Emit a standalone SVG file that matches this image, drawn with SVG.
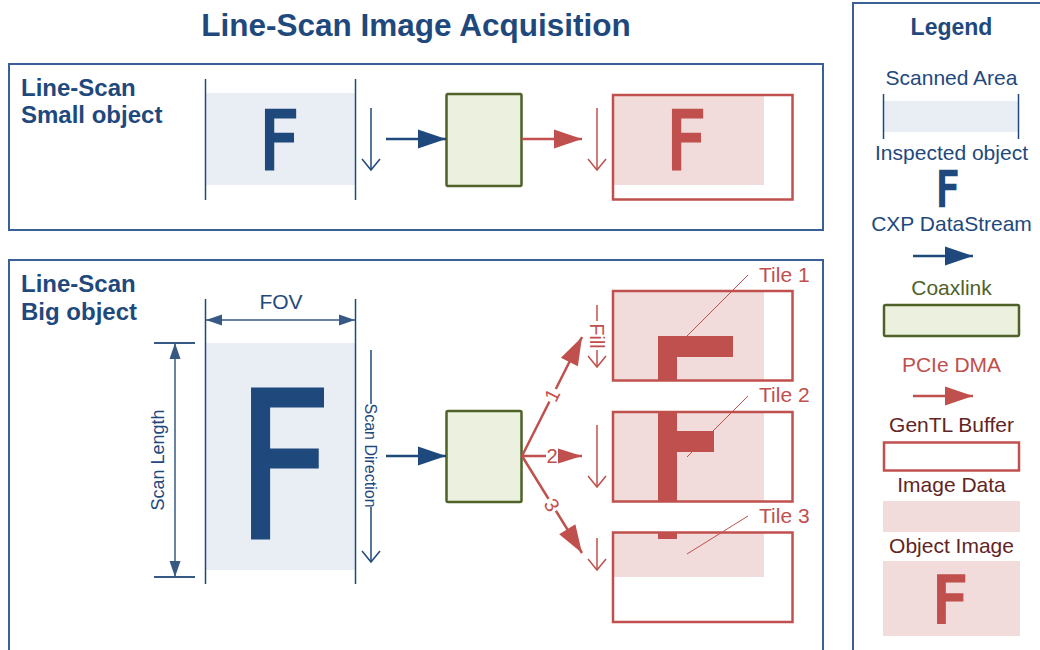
<svg xmlns="http://www.w3.org/2000/svg" width="1040" height="650" viewBox="0 0 1040 650">
<style>
text{font-family:"Liberation Sans",Arial,sans-serif}
.panel{fill:none;stroke:#3a6096;stroke-width:2}
.ttl{font-weight:bold;fill:#1f497d;font-size:24px}
.leg{font-size:21px;text-anchor:middle}
.blue{fill:#1f497d}
.bigF{font-family:"DejaVu Sans",Verdana,sans-serif;stroke-linejoin:miter}
.bF{fill:#1f497d;stroke:#1f497d}
.rF{fill:#c0504d;stroke:#c0504d}
.area{fill:#e9eef5}
.edge{stroke:#1f497d;stroke-width:1.5}
.dim{stroke:#375a85;stroke-width:1.5;fill:none}
.bluearr{stroke:#1f497d;stroke-width:2.5;fill:none}
.redarr{stroke:#c0504d;stroke-width:2.5;fill:none}
.down{stroke:#1f497d;stroke-width:1.5;fill:none}
.rdown{stroke:#c0504d;stroke-width:1.5;fill:none}
.coax{fill:#ebf1de;stroke:#4f6228;stroke-width:2.5}
.buf{fill:none;stroke:#c0504d;stroke-width:2.5}
.img{fill:#f2dcdb}
.redF{fill:#c0504d}
.lead{stroke:#c0504d;stroke-width:1}
.tile{fill:#c0504d;font-size:21px}
</style>
<defs>
<marker id="ahBlue" markerUnits="userSpaceOnUse" markerWidth="28" markerHeight="20" refX="28" refY="10" orient="auto" overflow="visible"><path d="M0,0.5 L28,10 L0,19.5 z" fill="#1f497d"/></marker>
<marker id="ahRed" markerUnits="userSpaceOnUse" markerWidth="28" markerHeight="20" refX="28" refY="10" orient="auto" overflow="visible"><path d="M0,0.5 L28,10 L0,19.5 z" fill="#c0504d"/></marker>
<marker id="ahRedSm" markerUnits="userSpaceOnUse" markerWidth="24" markerHeight="16" refX="24" refY="8" orient="auto" overflow="visible"><path d="M0,0.5 L24,8 L0,15.5 z" fill="#c0504d"/></marker>
<marker id="openBlue" markerUnits="userSpaceOnUse" markerWidth="12" markerHeight="20" refX="11" refY="10" orient="auto" overflow="visible"><path d="M0,1 L11,10 L0,19" fill="none" stroke="#1f497d" stroke-width="1.5"/></marker>
<marker id="openRed" markerUnits="userSpaceOnUse" markerWidth="12" markerHeight="20" refX="11" refY="10" orient="auto" overflow="visible"><path d="M0,1 L11,10 L0,19" fill="none" stroke="#c0504d" stroke-width="1.5"/></marker>
<marker id="dimArr" markerUnits="userSpaceOnUse" markerWidth="16" markerHeight="11" refX="16" refY="5.5" orient="auto-start-reverse" overflow="visible"><path d="M0,0 L16,5.5 L0,11 z" fill="#375a85"/></marker>
</defs>

<text x="416" y="36" text-anchor="middle" font-weight="bold" font-size="31.5" fill="#1f497d">Line-Scan Image Acquisition</text>

<!-- Panel: small object -->
<g id="panel-small">
<rect class="panel" x="9" y="64" width="814" height="166"/>
<text class="ttl" x="21" y="96">Line-Scan</text>
<text class="ttl" x="21" y="123">Small object</text>
</g>
<g id="scan-small">
<rect class="area" x="206" y="93" width="149" height="92"/>
<line class="edge" x1="205.5" y1="79" x2="205.5" y2="200"/>
<line class="edge" x1="355.5" y1="79" x2="355.5" y2="200"/>
<text class="bigF bF" transform="translate(259.6,168.5) scale(0.845,1)" font-size="81" stroke-width="3">F</text>
</g>
<g id="coax-small"><rect class="coax" x="446.5" y="94" width="75" height="92" rx="1.5"/></g>
<g id="buffer-small">
<rect class="img" x="612" y="94" width="152" height="91"/>
<text class="bigF rF" transform="translate(666.6,168.5) scale(0.845,1)" font-size="81" stroke-width="3">F</text>
<rect class="buf" x="613" y="95" width="179.5" height="104.5"/>
</g>

<!-- Panel: big object -->
<g id="panel-big">
<rect class="panel" x="9" y="260" width="814" height="420"/>
<text class="ttl" x="21" y="292">Line-Scan</text>
<text class="ttl" x="21" y="320">Big object</text>
</g>
<g id="scan-big">
<rect class="area" x="206" y="343" width="149" height="227"/>
<line class="edge" x1="205.5" y1="299" x2="205.5" y2="584"/>
<line class="edge" x1="355.5" y1="299" x2="355.5" y2="584"/>
<text class="bigF bF" transform="translate(235.8,537.5) scale(0.829,1)" font-size="203" stroke-width="3">F</text>
</g>
<g id="fov">
<line class="dim" x1="206" y1="320" x2="355" y2="320" marker-start="url(#dimArr)" marker-end="url(#dimArr)"/>
<text x="281" y="309" text-anchor="middle" font-size="21" fill="#1f497d">FOV</text>
</g>
<g id="scan-length">
<line x1="154" y1="343" x2="195" y2="343" stroke="#375a85" stroke-width="2"/>
<line x1="154" y1="577" x2="195" y2="577" stroke="#375a85" stroke-width="2"/>
<line class="dim" x1="175" y1="343" x2="175" y2="577" marker-start="url(#dimArr)" marker-end="url(#dimArr)"/>
<text transform="translate(157,460) rotate(-90)" y="6.5" text-anchor="middle" font-size="18" fill="#1f497d">Scan Length</text>
</g>
<g id="scan-direction">
<line class="down" x1="371" y1="350" x2="371" y2="404"/>
<line class="down" x1="371" y1="507" x2="371" y2="562" marker-end="url(#openBlue)"/>
<text transform="translate(371,455.5) rotate(90)" y="5.7" text-anchor="middle" font-size="16" fill="#1f497d">Scan Direction</text>
</g>
<g id="coax-big"><rect class="coax" x="446.5" y="411" width="75" height="91" rx="1.5"/></g>

<g id="tile1">
<rect class="img" x="612" y="290" width="152" height="91"/>
<rect class="redF" x="658" y="336" width="75" height="21"/>
<rect class="redF" x="658" y="336" width="19" height="45"/>
<rect class="buf" x="613" y="291" width="179.5" height="89.5"/>
<line class="lead" x1="748" y1="275" x2="687" y2="336"/>
<text class="tile" x="759" y="282">Tile 1</text>
</g>
<g id="tile2">
<rect class="img" x="612" y="411" width="152" height="91"/>
<rect class="redF" x="658" y="411" width="19" height="91"/>
<rect class="redF" x="677" y="431" width="37" height="21"/>
<rect class="buf" x="613" y="412" width="179.5" height="89.5"/>
<line class="lead" x1="748" y1="396" x2="687" y2="457"/>
<text class="tile" x="759" y="402">Tile 2</text>
</g>
<g id="tile3">
<rect class="img" x="612" y="532" width="152" height="45"/>
<rect class="redF" x="658" y="532" width="19" height="7"/>
<rect class="buf" x="613" y="532.5" width="179.5" height="89.5"/>
<line class="lead" x1="748" y1="516" x2="687" y2="554"/>
<text class="tile" x="759" y="523">Tile 3</text>
</g>

<!-- Connectors -->
<g id="connectors">
<line class="down" x1="371" y1="108" x2="371" y2="170" marker-end="url(#openBlue)"/>
<line class="bluearr" x1="386" y1="139" x2="446" y2="139" marker-end="url(#ahBlue)"/>
<line class="redarr" x1="522" y1="139" x2="582" y2="139" marker-end="url(#ahRed)"/>
<line class="rdown" x1="597" y1="108" x2="597" y2="170" marker-end="url(#openRed)"/>

<line class="bluearr" x1="386" y1="456" x2="446" y2="456" marker-end="url(#ahBlue)"/>
<line class="redarr" x1="522" y1="456" x2="582" y2="337" marker-end="url(#ahRed)"/>
<line class="redarr" x1="522" y1="456" x2="582" y2="456" marker-end="url(#ahRedSm)"/>
<line class="redarr" x1="522" y1="456" x2="582" y2="553" marker-end="url(#ahRed)"/>
<g transform="translate(552,395) rotate(-63)"><rect x="-7" y="-9" width="14" height="18" fill="#fff"/><text y="7" text-anchor="middle" font-size="20" fill="#c0504d">1</text></g>
<g transform="translate(552,456)"><rect x="-6" y="-9" width="12" height="18" fill="#fff"/><text y="7" text-anchor="middle" font-size="20" fill="#c0504d">2</text></g>
<g transform="translate(552,505) rotate(58)"><rect x="-7" y="-9" width="14" height="18" fill="#fff"/><text y="7" text-anchor="middle" font-size="20" fill="#c0504d">3</text></g>

<line class="rdown" x1="597" y1="305" x2="597" y2="321"/>
<line class="rdown" x1="597" y1="350" x2="597" y2="367" marker-end="url(#openRed)"/>
<text transform="translate(597,336) rotate(90)" y="7" text-anchor="middle" font-size="20" fill="#c0504d">Fill</text>
<line class="rdown" x1="597" y1="425" x2="597" y2="487" marker-end="url(#openRed)"/>
<line class="rdown" x1="597" y1="538" x2="597" y2="570" marker-end="url(#openRed)"/>
</g>

<!-- Legend -->
<g id="legend">
<rect class="panel" x="853" y="3" width="200" height="660"/>
<text x="951.5" y="35" text-anchor="middle" font-weight="bold" font-size="23" fill="#1f497d">Legend</text>
<text class="leg blue" x="951.5" y="85">Scanned Area</text>
<rect class="area" x="884" y="101" width="134" height="31"/>
<line class="edge" x1="883.5" y1="94" x2="883.5" y2="139"/>
<line class="edge" x1="1018.5" y1="94" x2="1018.5" y2="139"/>
<text class="leg blue" x="951.5" y="160">Inspected object</text>
<text class="bigF bF" transform="translate(936.2,205.8) scale(0.83,1)" font-size="47.3" stroke-width="2.5">F</text>
<text class="leg blue" x="951.5" y="231">CXP DataStream</text>
<line class="bluearr" x1="913" y1="256" x2="973" y2="256" marker-end="url(#ahBlue)"/>
<text class="leg" x="951.5" y="295" fill="#4f6228">Coaxlink</text>
<rect class="coax" x="884" y="305" width="135" height="31" rx="1.5"/>
<text class="leg" x="951.5" y="372" fill="#c0504d">PCIe DMA</text>
<line class="redarr" x1="913" y1="396" x2="973" y2="396" marker-end="url(#ahRed)"/>
<text class="leg" x="951.5" y="432" fill="#632523">GenTL Buffer</text>
<rect class="buf" x="884" y="442.5" width="135" height="28"/>
<text class="leg" x="951.5" y="492" fill="#632523">Image Data</text>
<rect class="img" x="883" y="501" width="137" height="31"/>
<text class="leg" x="951.5" y="553" fill="#632523">Object Image</text>
<rect class="img" x="883" y="561" width="137" height="75"/>
<text class="bigF rF" transform="translate(932.5,621.5) scale(0.94,1)" font-size="64.5" stroke-width="3">F</text>
</g>
</svg>
